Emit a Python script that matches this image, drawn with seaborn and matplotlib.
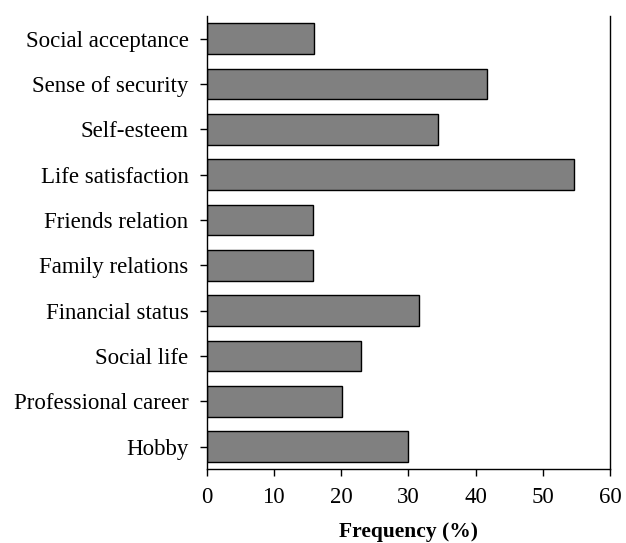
import matplotlib
matplotlib.use("Agg")
import matplotlib.pyplot as plt
import seaborn as sns
import pandas as pd

# data
categories = [
    "Social acceptance", "Sense of security", "Self-esteem", "Life satisfaction",
    "Friends relation", "Family relations", "Financial status", "Social life",
    "Professional career", "Hobby",
]
frequency = [15.9, 41.7, 34.4, 54.6, 15.8, 15.8, 31.6, 22.9, 20.1, 30.0]
x_ticks = [0, 10, 20, 30, 40, 50, 60]

df = pd.DataFrame({"item": categories, "freq": frequency})

sns.set_theme(style="ticks")
plt.rcParams["font.family"] = ["Liberation Serif"]
plt.rcParams["text.color"] = "black"
plt.rcParams["xtick.color"] = "black"
plt.rcParams["ytick.color"] = "black"
plt.rcParams["axes.labelcolor"] = "black"

fig = plt.figure(figsize=(6.26, 5.43), dpi=100)
ax = fig.add_axes([0.33, 0.1357, 0.6446, 0.8348])

sns.barplot(data=df, x="freq", y="item", order=categories, color="#808080",
            saturation=1, edgecolor="black", linewidth=1.0, width=0.68, ax=ax)

ax.set_xlim(0, 60)
ax.set_xticks(x_ticks)
ax.set_ylim(9.5, -0.5)
ax.set_xlabel("Frequency (%)", fontsize=15.5, fontweight="bold", labelpad=10)
ax.set_ylabel("")
ax.tick_params(axis="both", labelsize=16.5, length=5, width=1, color="black")
ax.tick_params(axis="y", pad=8)
ax.tick_params(axis="x", pad=8)

for side in ["left", "right", "bottom"]:
    ax.spines[side].set_visible(True)
    ax.spines[side].set_linewidth(1)
    ax.spines[side].set_color("black")
ax.spines["top"].set_visible(False)

fig.savefig("out.png", dpi=100)
